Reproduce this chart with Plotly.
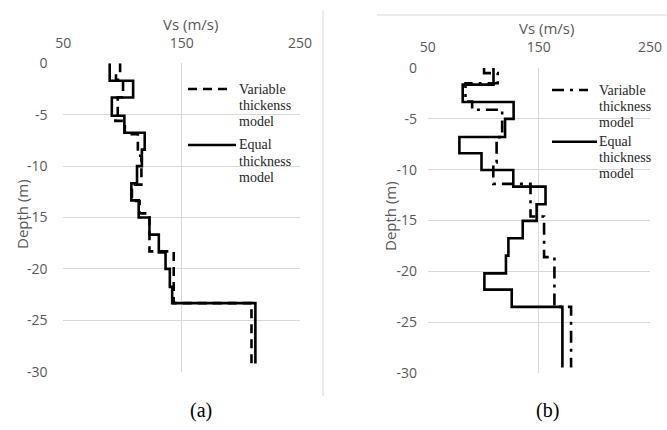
import plotly.graph_objects as go

# ---------------- DATA ----------------
# Panel (a): layer top depths (m) and shear-wave velocities (m/s)
a_equal_top = [0, 1.7, 3.33, 5.1, 6.75, 8.4, 10, 11.68, 13.33, 15, 16.67, 18.4, 20, 21.75, 23.33]
a_equal_vs = [89.2, 109, 91, 101.6, 118.8, 116.4, 112.3, 107.5, 113.7, 122.8, 130.7, 136.4, 140, 142, 212.3]
a_equal_bottom = 29.2

a_var_top = [0, 0.9, 1.6, 3.3, 5.3, 5.6, 6.9, 9.0, 11.8, 13.4, 14.6, 18.3, 23.33]
a_var_vs = [98, 94.5, 100.5, 96, 94, 102, 113, 116, 108, 114.5, 122.8, 143.3, 209]
a_var_bottom = 29.2

# Panel (b)
b_equal_top = [0, 1.64, 3.34, 5.0, 6.79, 8.39, 10.03, 11.67, 13.4, 15.04, 16.75, 18.45, 20.2, 21.8, 23.5]
b_equal_vs = [109.2, 81.5, 127.3, 119.6, 78.5, 98.4, 127, 156, 148, 135.5, 122.6, 120.4, 101, 125.6, 171.2]
b_equal_bottom = 29.47

b_var_top = [0, 0.5, 1.5, 3.3, 4.1, 6.8, 9.3, 11.4, 14.6, 18.6, 23.5]
b_var_vs = [100.7, 113, 84, 90, 117, 112, 109, 142.5, 154.7, 164, 179]
b_var_bottom = 29.47

x_ticks = [50, 150, 250]
y_ticks = [0, -5, -10, -15, -20, -25, -30]
y_ticklabels = ["0", "-5", "-10", "-15", "-20", "-25", "-30"]

legend_var_a = ["Variable", "thickenss", "model"]
legend_var_b = ["Variable", "thickness", "model"]
legend_equal = ["Equal", "thickness", "model"]

# ---------------- LAYOUT HELPERS ----------------
W, H = 667, 430


def px(x):
    return x / W


def py(y):
    return 1 - y / H


def step_xy(tops, vs, bottom):
    xs = list(vs) + [vs[-1]]
    ys = [-t for t in tops] + [-bottom]
    return xs, ys


fig = go.Figure()

series = [
    (a_var_top, a_var_vs, a_var_bottom, "x", "y", "9px,6px"),
    (a_equal_top, a_equal_vs, a_equal_bottom, "x", "y", "solid"),
    (b_var_top, b_var_vs, b_var_bottom, "x2", "y2", "12px,6px,3px,6px"),
    (b_equal_top, b_equal_vs, b_equal_bottom, "x2", "y2", "solid"),
]
for tops, vs, bottom, xa, ya, dash in series:
    xs, ys = step_xy(tops, vs, bottom)
    fig.add_trace(go.Scatter(
        x=xs, y=ys, mode="lines", line=dict(color="black", width=2.6, dash=dash, shape="vh"),
        xaxis=xa, yaxis=ya, showlegend=False, hoverinfo="skip"))

tick_font = dict(family="Open Sans", size=14, color="#595959")
grid = "#d9d9d9"

common_x = dict(range=[50, 250], tickvals=x_ticks, side="top", showgrid=True, gridcolor=grid,
                gridwidth=1, zeroline=False, showline=False, ticks="outside",
                tickcolor="rgba(0,0,0,0)", ticklen=9, tickfont=tick_font, fixedrange=True,
                automargin=False)
common_y = dict(range=[-30, 0], tickvals=y_ticks, ticktext=y_ticklabels, showgrid=True,
                gridcolor=grid, gridwidth=1, zeroline=False, showline=False, ticks="outside",
                tickcolor="rgba(0,0,0,0)", tickfont=tick_font, fixedrange=True,
                automargin=False)

fig.update_layout(
    width=W, height=H, margin=dict(l=0, r=0, t=0, b=0, pad=0, autoexpand=False),
    paper_bgcolor="white", plot_bgcolor="white", showlegend=False,
    xaxis=dict(domain=[px(63.3), px(300)], anchor="y", **common_x),
    yaxis=dict(domain=[py(371.7), py(63.3)], anchor="x", ticklen=12, **common_y),
    xaxis2=dict(domain=[px(427.7), px(650)], anchor="y2", **common_x),
    yaxis2=dict(domain=[py(373), py(68)], anchor="x2", ticklen=7, **common_y),
)

shapes = []
# chart-area frame fragments
shapes.append(dict(type="line", xref="paper", yref="paper", x0=px(323), x1=px(323),
                   y0=py(10), y1=py(396), line=dict(color=grid, width=1)))
shapes.append(dict(type="line", xref="paper", yref="paper", x0=px(377), x1=px(667),
                   y0=py(15), y1=py(15), line=dict(color=grid, width=1)))

# legend samples
shapes.append(dict(type="line", xref="paper", yref="paper", x0=px(188), x1=px(233),
                   y0=py(89), y1=py(89), line=dict(color="black", width=2.6, dash="9px,6px")))
shapes.append(dict(type="line", xref="paper", yref="paper", x0=px(188), x1=px(236),
                   y0=py(145), y1=py(145), line=dict(color="black", width=2.6)))
shapes.append(dict(type="line", xref="paper", yref="paper", x0=px(552), x1=px(588),
                   y0=py(90), y1=py(90), line=dict(color="black", width=2.6, dash="12px,6px,3px,6px")))
shapes.append(dict(type="line", xref="paper", yref="paper", x0=px(552), x1=px(597),
                   y0=py(141.7), y1=py(141.7), line=dict(color="black", width=2.6)))

annotations = []
serif = dict(family="Liberation Serif", size=14, color="#262626")


def text(x, y, s, font, xanchor="left", angle=0):
    annotations.append(dict(x=px(x), y=py(y), xref="paper", yref="paper", text=s, showarrow=False,
                            xanchor=xanchor, yanchor="middle", font=font, textangle=angle,
                            borderpad=0))


for i, s in enumerate(legend_var_a):
    text(238, 89 + 16.3 * i, s, serif)
for i, s in enumerate(legend_equal):
    text(238, 145 + 16.3 * i, s, serif)
for i, s in enumerate(legend_var_b):
    text(598, 90 + 16.3 * i, s, serif)
for i, s in enumerate(legend_equal):
    text(598, 141.7 + 16 * i, s, serif)

title_font = dict(family="Open Sans", size=15, color="#595959")
text(190, 24, "Vs (m/s)", title_font, xanchor="center")
text(546, 28, "Vs (m/s)", title_font, xanchor="center")
text(22, 214, "Depth (m)", title_font, xanchor="center", angle=-90)
text(390, 216, "Depth (m)", title_font, xanchor="center", angle=-90)

cap_font = dict(family="Liberation Serif", size=20, color="black")
text(201, 410, "(a)", cap_font, xanchor="center")
text(547, 410, "(b)", cap_font, xanchor="center")

fig.update_layout(shapes=shapes, annotations=annotations)
fig.write_html(
    "out.html",
    config={"displayModeBar": False},
    post_script="document.body.style.margin='0';document.body.style.overflow='hidden';",
)
